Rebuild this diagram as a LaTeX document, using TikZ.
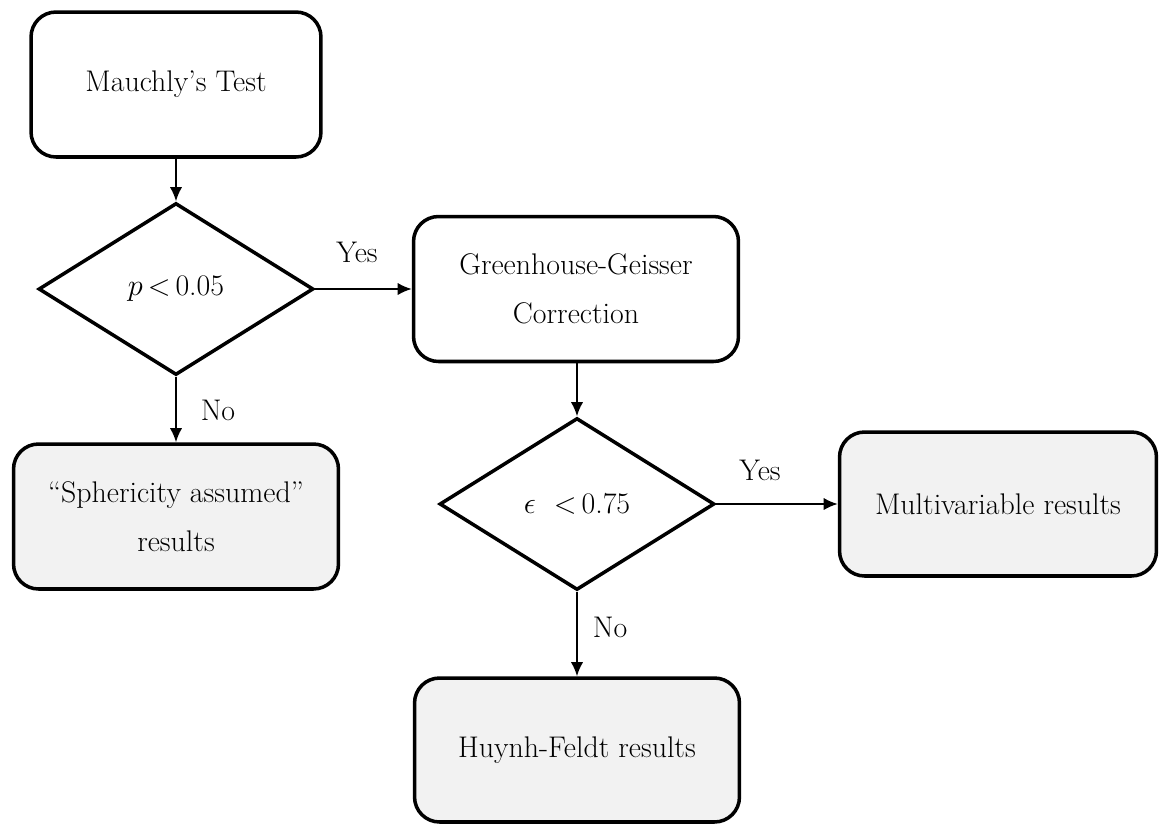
\documentclass[tikz,border=0pt]{standalone}
\usetikzlibrary{arrows.meta}
\usetikzlibrary{shapes.geometric}
\definecolor{boxgray}{RGB}{242,242,242}

\begin{document}
\begin{tikzpicture}[x=0.02cm,y=-0.02cm,
	box/.style = {draw, thick, line width=2pt, rounded corners=0.5cm, align=center, minimum width=6.5cm, minimum height=2.9cm},
	test/.style = {draw, diamond, line width=2pt, inner sep=0pt, minimum width=5.5cm, minimum height=3.44cm},
	result/.style = {box, fill=boxgray},
	every node/.style = {font=\fontsize{17}{28}\selectfont}]
	\useasboundingbox (0,0) rectangle (1159,823);
	\node[box,minimum width=5.8cm] (M) at (176,84.5) {Mauchly's Test};
	\node[test] (P) at (176,289) {$p$\,<\,0.05};
	\node[box] (G) at (576,289) {Greenhouse-Geisser\\Correction};
	\node[test] (E) at (577,504) {$\epsilon$\ \ <\,0.75};
	\node[result] (S) at (176,516.5) {``Sphericity assumed''\\results};
	\node[result,minimum width=6.34cm,minimum height=2.88cm] (V) at (998,504) {Multivariable results};
	\node[result,minimum height=2.88cm] (H) at (577,750) {Huynh-Feldt results};
	% labels
	\node (Y1) at (357,252) {Yes};
	\node (N1) at (218,410) {No};
	\node (Y2) at (760,470) {Yes};
	\node (N2) at (610,627) {No};
	\begin{scope}[line width=1.1pt, -{Latex[length=8pt,width=7pt]}]
		\draw (M) -- (P);
		\draw (P) -- (G);
		\draw (P) -- (S);
		\draw (G.south -| E) -- (E);
		\draw (E) -- (V);
		\draw (E) -- (H);
	\end{scope}
\end{tikzpicture}
\end{document}
